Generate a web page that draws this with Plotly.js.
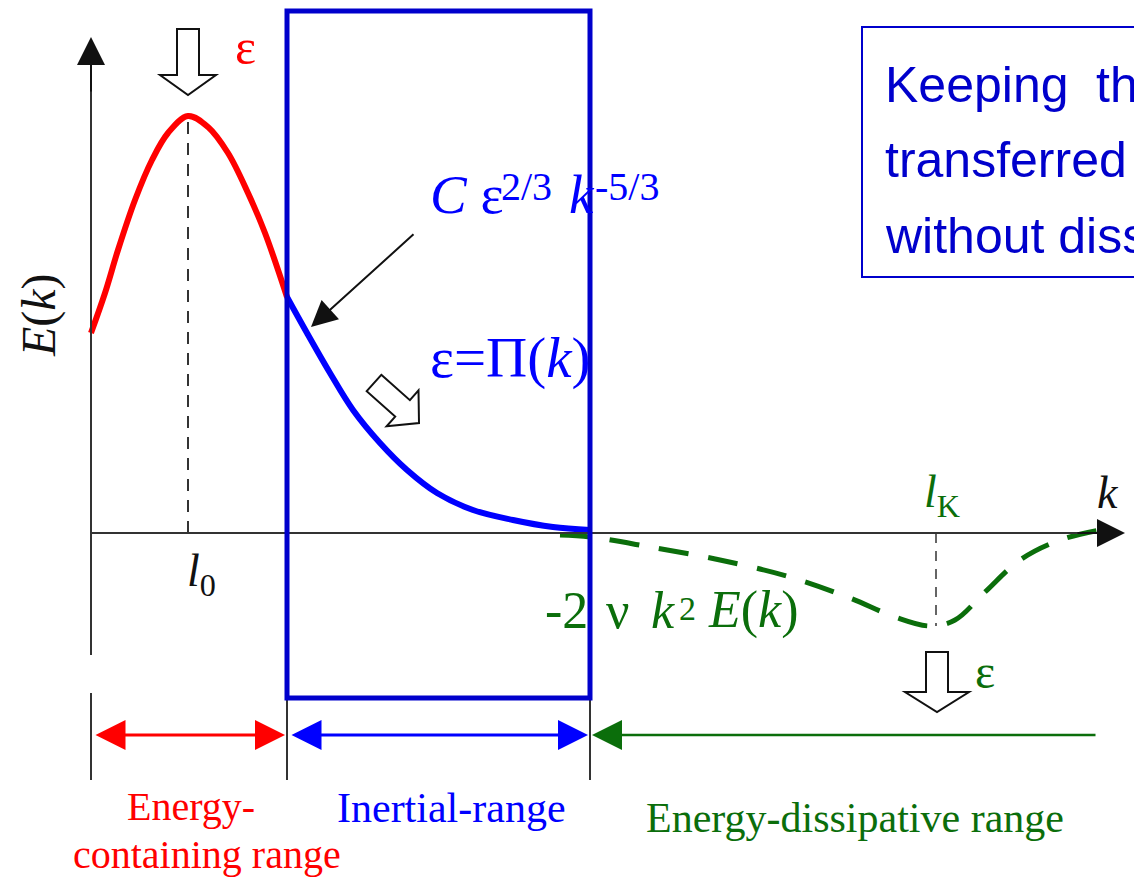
<!DOCTYPE html>
<html><head><meta charset="utf-8">
<script src="https://cdn.plot.ly/plotly-3.0.1.min.js"></script>
<style>html,body{margin:0;padding:0;background:#fff;overflow:hidden}</style>
</head><body><div id="chart" style="width:1134px;height:881px"></div>
<script>
// Energy spectrum schematic: k (horizontal), E(k) (vertical); units = pixels from the axis origin
const kRed   = [0, 14, 27, 44, 61, 77, 97, 117, 137, 157, 174, 196];
const ERed   = [200, 240, 283, 333, 373, 400, 417, 406, 380, 340, 300, 236];
const kBlue  = [196, 216, 239, 262, 289, 316, 346, 382, 422, 462, 499];
const EBlue  = [236, 200, 160, 123, 90, 63, 40, 23, 13, 6, 3];
const kGreen = [469, 499, 559, 629, 699, 759, 804, 839, 864, 894, 929, 969, 1009];
const EGreen = [-2, -4, -14, -27, -44, -65, -84, -93, -87, -59, -27, -7, 3];
const k0 = 97, Epeak = 417;      // l0 position
const kK = 845, Emin = -93;      // lK position
const kEdges = [0, 196, 499];    // range boundaries
const rangeLabels = ["Energy-", "containing range", "Inertial-range", "Energy-dissipative range"];
const boxLines = ["Keeping", "th", "transferred", "without diss"];

const serif = "Liberation Serif, Times New Roman, serif";
const sans = "Liberation Sans, Arial, sans-serif";
const RED = "#ff0000", BLUE = "#0000ff", BOX = "#0000cc", GREEN = "#0b6e0b", AX = "#333333";

function blockArrow(tx, ty, px, py, sw, hw, hl) {
  const L = Math.hypot(px - tx, py - ty);
  const dx = (px - tx) / L, dy = (py - ty) / L;
  const nx = -dy, ny = dx;
  const hx = px - dx * hl, hy = py - dy * hl;
  const pts = [
    [tx + nx * sw, ty + ny * sw], [hx + nx * sw, hy + ny * sw], [hx + nx * hw, hy + ny * hw],
    [px, py], [hx - nx * hw, hy - ny * hw], [hx - nx * sw, hy - ny * sw], [tx - nx * sw, ty - ny * sw]
  ];
  return {type: "path", xref: "x", yref: "y", layer: "above",
    path: "M" + pts.map(p => p[0].toFixed(1) + "," + p[1].toFixed(1)).join(" L") + " Z",
    line: {color: "#111", width: 2}, fillcolor: "rgba(255,255,255,1)"};
}

const traces = [
  {x: kRed, y: ERed, mode: "lines", line: {color: RED, width: 6, shape: "spline", smoothing: 1}},
  {x: kBlue, y: EBlue, mode: "lines", line: {color: BLUE, width: 6, shape: "spline", smoothing: 1}},
  {x: kGreen, y: EGreen, mode: "lines", line: {color: GREEN, width: 5, shape: "spline", dash: "30px,20px"}}
];

const shapes = [
  {type: "line", x0: 0, x1: 0, y0: -122, y1: 470, line: {color: AX, width: 2}},
  {type: "line", x0: 0, x1: 1010, y0: 0, y1: 0, line: {color: AX, width: 2}},
  {type: "line", x0: k0, x1: k0, y0: 0, y1: Epeak, line: {color: AX, width: 2, dash: "12px,9px"}},
  {type: "line", x0: kK, x1: kK, y0: 0, y1: Emin, line: {color: AX, width: 1.5, dash: "10px,8px"}},
  ...kEdges.map(k => ({type: "line", x0: k, x1: k, y0: -160, y1: -247, line: {color: AX, width: 2}})),
  {type: "rect", x0: kEdges[1], x1: kEdges[2], y0: -165, y1: 522, line: {color: BOX, width: 5}, layer: "above"},
  {type: "rect", x0: 771, x1: 1060, y0: 256, y1: 506, line: {color: BOX, width: 2}},
  blockArrow(k0, 504, k0, 438, 11, 28, 20),
  blockArrow(846, -119, 846, -179, 11, 32, 20),
  blockArrow(283, 150, 328, 110, 11, 24, 22)
];

// baseline-aware text helper: (x,left or center) and baseline y in axis units
function txt(x, base, text, color, size, fam, anchor, extra) {
  const f = fam || serif;
  const off = (f === sans ? 0.3465 : 0.3375) * size;
  return Object.assign({x: x, y: base + off, xref: "x", yref: "y", text: text, showarrow: false,
    font: {family: f, size: size, color: color}, xanchor: anchor || "center", yanchor: "middle"}, extra || {});
}
function arr(x, y, ax, ay, color, width, size, both) {
  return {x: x, y: y, ax: ax, ay: ay, xref: "x", yref: "y", axref: "x", ayref: "y", text: "",
    showarrow: true, arrowhead: 2, arrowsize: size, arrowwidth: width, arrowcolor: color,
    arrowside: both ? "end+start" : "end", startarrowhead: 2, startarrowsize: size, standoff: 0, startstandoff: 0};
}

const annotations = [
  arr(0, 496, 0, 440, "#111", 2, 2.8),
  arr(1034, 0, 985, 0, "#111", 2, 2.8),
  arr(220, 206, 324, 300, "#111", 2, 2.6),
  arr(kEdges[1] - 2, -202, kEdges[0] + 3, -202, RED, 3, 2.0, true),
  arr(kEdges[2] - 2, -202, kEdges[1] + 3, -202, BLUE, 3, 2.0, true),
  arr(kEdges[2] + 2, -202, 1006, -202, GREEN, 2.5, 2.4),
  txt(154, 469, "ε", RED, 50),
  txt(110, -57, "<i>l</i><sub>0</sub>", "#111", 46),
  {x: -52, y: 218, xref: "x", yref: "y", text: "<i>E</i>(<i>k</i>)", showarrow: false, textangle: -90,
   font: {family: serif, size: 48, color: "#111"}},
  // C eps^{2/3} k^{-5/3}
  txt(337, 320, "<i>C</i> ε", BLUE, 55, serif, "left"),
  txt(408, 333, "2/3", BLUE, 40, serif, "left"),
  txt(476, 320, "<i>k</i>", BLUE, 55, serif, "left"),
  txt(502, 333, "-5/3", BLUE, 40, serif, "left"),
  // eps = Pi(k)
  txt(337, 156, "ε=Π(<i>k</i>)", BLUE, 57, serif, "left"),
  txt(851, 22, "<i>l</i><sub>K</sub>", GREEN, 46),
  txt(1017, 25, "<i>k</i>", "#111", 46),
  // -2 nu k^2 E(k)
  txt(452, -95, "-2", GREEN, 52, serif, "left"),
  txt(513, -95, "ν", GREEN, 52, serif, "left"),
  txt(558, -95, "<i>k</i>", GREEN, 52, serif, "left"),
  txt(586, -87, "2", GREEN, 34, serif, "left"),
  txt(615, -95, "<i>E</i>(<i>k</i>)", GREEN, 52, serif, "left"),
  txt(894, -155, "ε", GREEN, 48),
  txt(100, -287, rangeLabels[0], RED, 40),
  txt(116, -335, rangeLabels[1], RED, 40),
  txt(360, -289, rangeLabels[2], BLUE, 42),
  txt(764, -299, rangeLabels[3], GREEN, 42),
  txt(792, 431, boxLines[0], BOX, 50, sans, "left"),
  txt(1003, 431, boxLines[1], BOX, 50, sans, "left"),
  txt(792, 356, boxLines[2], BOX, 50, sans, "left"),
  txt(792, 280, boxLines[3], BOX, 50, sans, "left")
];

const layout = {
  width: 1134, height: 881, margin: {l: 0, r: 0, t: 0, b: 0},
  paper_bgcolor: "#fff", plot_bgcolor: "#fff", showlegend: false,
  xaxis: {range: [-91, 1043], visible: false, fixedrange: true},
  yaxis: {range: [-348, 533], visible: false, fixedrange: true},
  shapes: shapes, annotations: annotations
};
Plotly.newPlot("chart", traces, layout, {staticPlot: true, displayModeBar: false});
</script></body></html>
